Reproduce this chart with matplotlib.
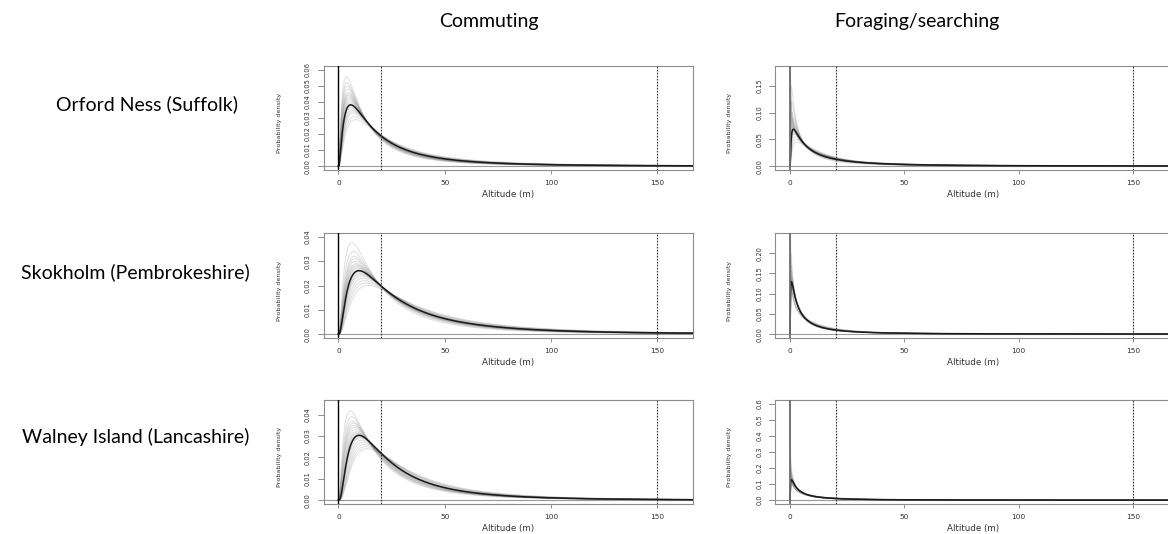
import math
import numpy as np
import matplotlib
matplotlib.use("Agg")
import matplotlib.pyplot as plt
from matplotlib.ticker import FixedLocator, FormatStrFormatter

# ---------------------------------------------------------------- data
SITES = ["Orford Ness (Suffolk)", "Skokholm (Pembrokeshire)", "Walney Island (Lancashire)"]
BEHAVIOURS = ["Commuting", "Foraging/searching"]
X_TICKS = [0, 50, 100, 150]
REF_ALTITUDES = [20, 150]          # dotted reference heights (m)
ALT_RANGE = [0, 170]               # altitude range over which curves are drawn

# fitted (log-normal) altitude density per site: mode (m) and peak density
COMMUTING_MODE = [5.8, 9.7, 9.7]
COMMUTING_PEAK = [0.0382, 0.0261, 0.0303]
FORAGING_MODE = [1.46, 0.6, 0.6]
FORAGING_PEAK = [0.069, 0.1295, 0.127]

# bootstrap refits (log-normal): mode and peak density of each draw
ORF_COM_DRAW_MODE = [3.8, 4.0, 4.2, 4.4, 4.6, 4.7, 4.8, 5.0, 5.1, 5.3, 5.4, 5.6, 5.8, 6.0, 6.2, 6.5, 6.8, 7.0, 7.5, 8.0]
ORF_COM_DRAW_PEAK = [0.0556, 0.052, 0.050, 0.048, 0.046, 0.045, 0.044, 0.043, 0.042, 0.041, 0.040, 0.039, 0.038, 0.037, 0.036, 0.035, 0.034, 0.033, 0.031, 0.029]
SKO_COM_DRAW_MODE = [6.3, 7.0, 7.5, 7.8, 8.0, 8.3, 8.5, 8.8, 9.0, 9.2, 9.5, 9.7, 10.0, 10.3, 10.6, 11.0, 11.6, 12.3, 13.0, 14.0]
SKO_COM_DRAW_PEAK = [0.0376, 0.034, 0.032, 0.031, 0.030, 0.029, 0.0285, 0.028, 0.0275, 0.027, 0.0265, 0.026, 0.0255, 0.025, 0.0245, 0.024, 0.023, 0.022, 0.021, 0.020]
WAL_COM_DRAW_MODE = [5.6, 6.2, 6.6, 7.0, 7.3, 7.6, 8.0, 8.4, 8.7, 9.0, 9.4, 9.7, 10.0, 10.4, 11.0, 11.6, 12.2, 12.8, 13.5]
WAL_COM_DRAW_PEAK = [0.0417, 0.039, 0.037, 0.036, 0.035, 0.034, 0.033, 0.032, 0.0315, 0.031, 0.0305, 0.030, 0.0295, 0.029, 0.028, 0.027, 0.026, 0.025, 0.024]

ORF_FOR_DRAW_MODE = [0.5, 0.7, 0.9, 1.0, 1.1, 1.2, 1.3, 1.4, 1.5, 1.6, 1.7, 1.8, 2.0, 2.3, 2.6, 3.0]
ORF_FOR_DRAW_PEAK = [0.15, 0.12, 0.10, 0.09, 0.085, 0.08, 0.075, 0.072, 0.07, 0.068, 0.065, 0.062, 0.06, 0.055, 0.05, 0.045]
SKO_FOR_DRAW_MODE = [0.3, 0.4, 0.45, 0.5, 0.55, 0.58, 0.6, 0.65, 0.7, 0.75, 0.8, 0.9, 1.0]
SKO_FOR_DRAW_PEAK = [0.20, 0.17, 0.155, 0.145, 0.14, 0.135, 0.13, 0.127, 0.123, 0.12, 0.115, 0.11, 0.10]
WAL_FOR_DRAW_MODE = [0.25, 0.35, 0.4, 0.45, 0.5, 0.55, 0.6, 0.65, 0.7, 0.75, 0.8, 0.9, 1.1]
WAL_FOR_DRAW_PEAK = [0.22, 0.18, 0.16, 0.15, 0.14, 0.135, 0.13, 0.125, 0.12, 0.115, 0.11, 0.10, 0.09]

# bootstrap refits that decline from zero altitude (gamma, shape < 1)
ORF_FOR_SPIKE_SHAPE = [0.65, 0.7, 0.75, 0.8, 0.85, 0.9]
ORF_FOR_SPIKE_SCALE = [22, 20, 19, 18, 17, 16]
SKO_FOR_SPIKE_SHAPE = [0.55, 0.6, 0.65, 0.7]
SKO_FOR_SPIKE_SCALE = [22, 20, 19, 18]
WAL_FOR_SPIKE_SHAPE = [0.45, 0.5, 0.55, 0.6, 0.65]
WAL_FOR_SPIKE_SCALE = [26, 24, 22, 21, 20]

# y axes
COMMUTING_YMAX = [0.06, 0.04, 0.045]
FORAGING_YMAX = [0.18, 0.24, 0.6]
COMMUTING_YTICKS = [[0, 0.01, 0.02, 0.03, 0.04, 0.05, 0.06],
                    [0, 0.01, 0.02, 0.03, 0.04],
                    [0, 0.01, 0.02, 0.03, 0.04]]
FORAGING_YTICKS = [[0, 0.05, 0.10, 0.15],
                   [0, 0.05, 0.10, 0.15, 0.20],
                   [0, 0.1, 0.2, 0.3, 0.4, 0.5, 0.6]]
FORAGING_YFMT = ["%.2f", "%.2f", "%.1f"]


# ---------------------------------------------------------------- densities
def lognormal_from_mode_peak(mode, peak):
    """log-normal (mu, sigma) whose density peaks at `mode` with height `peak`."""
    target = peak * mode * math.sqrt(2 * math.pi)
    sig = np.linspace(0.2, 3.0, 20001)
    g = np.exp(-sig ** 2 / 2) / sig
    s = sig[np.argmin(np.abs(g - target))]
    return math.log(mode) + s ** 2, s


def lognormal_pdf(x, mode, peak):
    mu, s = lognormal_from_mode_peak(mode, peak)
    return np.exp(-(np.log(x) - mu) ** 2 / (2 * s ** 2)) / (x * s * math.sqrt(2 * math.pi))


def gamma_pdf(x, k, theta):
    return x ** (k - 1) * np.exp(-x / theta) / (math.gamma(k) * theta ** k)


alt = np.concatenate([np.geomspace(1e-4, 2, 700),
                      np.linspace(2, ALT_RANGE[1], 1600)[1:]])

# ---------------------------------------------------------------- figure
W, H = 1168, 534
fig = plt.figure(figsize=(W / 100, H / 100), dpi=100)
fig.patch.set_facecolor("white")

ROW_BOX = [(66, 170), (233, 338), (400, 504)]      # top, bottom (px)
COL_BOX = [(323.5, 692.5), (775, 1170.5)]          # left, right (px)
COL_XLIM = [(-7.0, 166.6), (-6.6, 166.4)]

NARROW = ["Liberation Sans Narrow", "DejaVu Sans"]
TITLE_FONT = ["Lato", "DejaVu Sans"]
SPINE = "#8c8c8c"
DRAW_COLOR = "#6f6f6f"

draws = {
    (0, 0): (ORF_COM_DRAW_MODE, ORF_COM_DRAW_PEAK, [], []),
    (1, 0): (SKO_COM_DRAW_MODE, SKO_COM_DRAW_PEAK, [], []),
    (2, 0): (WAL_COM_DRAW_MODE, WAL_COM_DRAW_PEAK, [], []),
    (0, 1): (ORF_FOR_DRAW_MODE, ORF_FOR_DRAW_PEAK, ORF_FOR_SPIKE_SHAPE, ORF_FOR_SPIKE_SCALE),
    (1, 1): (SKO_FOR_DRAW_MODE, SKO_FOR_DRAW_PEAK, SKO_FOR_SPIKE_SHAPE, SKO_FOR_SPIKE_SCALE),
    (2, 1): (WAL_FOR_DRAW_MODE, WAL_FOR_DRAW_PEAK, WAL_FOR_SPIKE_SHAPE, WAL_FOR_SPIKE_SCALE),
}

for r in range(3):
    top, bot = ROW_BOX[r]
    for c in range(2):
        left, right = COL_BOX[c]
        ax = fig.add_axes([left / W, 1 - bot / H, (right - left) / W, (bot - top) / H])

        if c == 0:
            mode, peak = COMMUTING_MODE[r], COMMUTING_PEAK[r]
            ymax, yticks, yfmt = COMMUTING_YMAX[r], COMMUTING_YTICKS[r], "%.2f"
        else:
            mode, peak = FORAGING_MODE[r], FORAGING_PEAK[r]
            ymax, yticks, yfmt = FORAGING_YMAX[r], FORAGING_YTICKS[r], FORAGING_YFMT[r]

        d_mode, d_peak, s_shape, s_scale = draws[(r, c)]
        for m, p in zip(d_mode, d_peak):
            ax.plot(alt, lognormal_pdf(alt, m, p), color=DRAW_COLOR, alpha=0.2, lw=0.8, zorder=2)
        for k, th in zip(s_shape, s_scale):
            ax.plot(alt, gamma_pdf(alt, k, th), color=DRAW_COLOR, alpha=0.2, lw=0.8, zorder=2)

        ax.plot(alt, lognormal_pdf(alt, mode, peak), color="#1a1a1a", lw=1.1, zorder=4)

        ax.axhline(0, color="#9a9a9a", lw=0.8, zorder=1)
        ax.axvline(0, color="black" if c == 0 else "#6e6e6e", lw=1.0 if c == 0 else 1.3, zorder=5)
        for h in REF_ALTITUDES:
            ax.axvline(h, color="#3a3a3a", lw=0.8, ls=(0, (1.6, 1.1)), zorder=5)

        ax.set_xlim(*COL_XLIM[c])
        ax.set_ylim(-0.04 * ymax, 1.04 * ymax)
        ax.xaxis.set_major_locator(FixedLocator(X_TICKS))
        ax.yaxis.set_major_locator(FixedLocator(yticks))
        ax.yaxis.set_major_formatter(FormatStrFormatter(yfmt))

        for sp in ax.spines.values():
            sp.set_color(SPINE)
            sp.set_linewidth(0.8)

        ax.tick_params(axis="y", direction="out", length=4, width=0.7, color=SPINE,
                       pad=5, labelsize=4.8, labelcolor="#333333", labelrotation=90)
        ax.tick_params(axis="x", direction="out", length=3, width=0.7, color=SPINE,
                       pad=4, labelsize=5.3, labelcolor="#333333")
        for lbl in ax.get_yticklabels():
            lbl.set_family(NARROW)
            lbl.set_verticalalignment("center")

        width_px = right - left
        ax.set_ylabel("Probability density", fontsize=4.6, color="#333333", family=NARROW)
        ax.yaxis.set_label_coords(-(44.5 if c == 0 else 46) / width_px, 0.45)
        ax.yaxis.label.set_va("center")
        ax.set_xlabel("Altitude (m)", fontsize=6.3, color="#333333")
        ax.xaxis.set_label_coords(0.5, -25 / (bot - top))
        ax.xaxis.label.set_va("center")

# column headings
fig.text(489 / W, 1 - 22 / H, BEHAVIOURS[0], fontsize=14, family=TITLE_FONT,
         ha="center", va="center", color="black")
fig.text(917 / W, 1 - 22 / H, BEHAVIOURS[1], fontsize=14, family=TITLE_FONT,
         ha="center", va="center", color="black")

# row headings
ROW_LABEL_POS = [(146.5, 104), (135, 272), (136, 437)]
for name, (x, y) in zip(SITES, ROW_LABEL_POS):
    fig.text(x / W, 1 - y / H, name, fontsize=14, family=TITLE_FONT,
             ha="center", va="center", color="black")

fig.savefig("out.png", dpi=100)
